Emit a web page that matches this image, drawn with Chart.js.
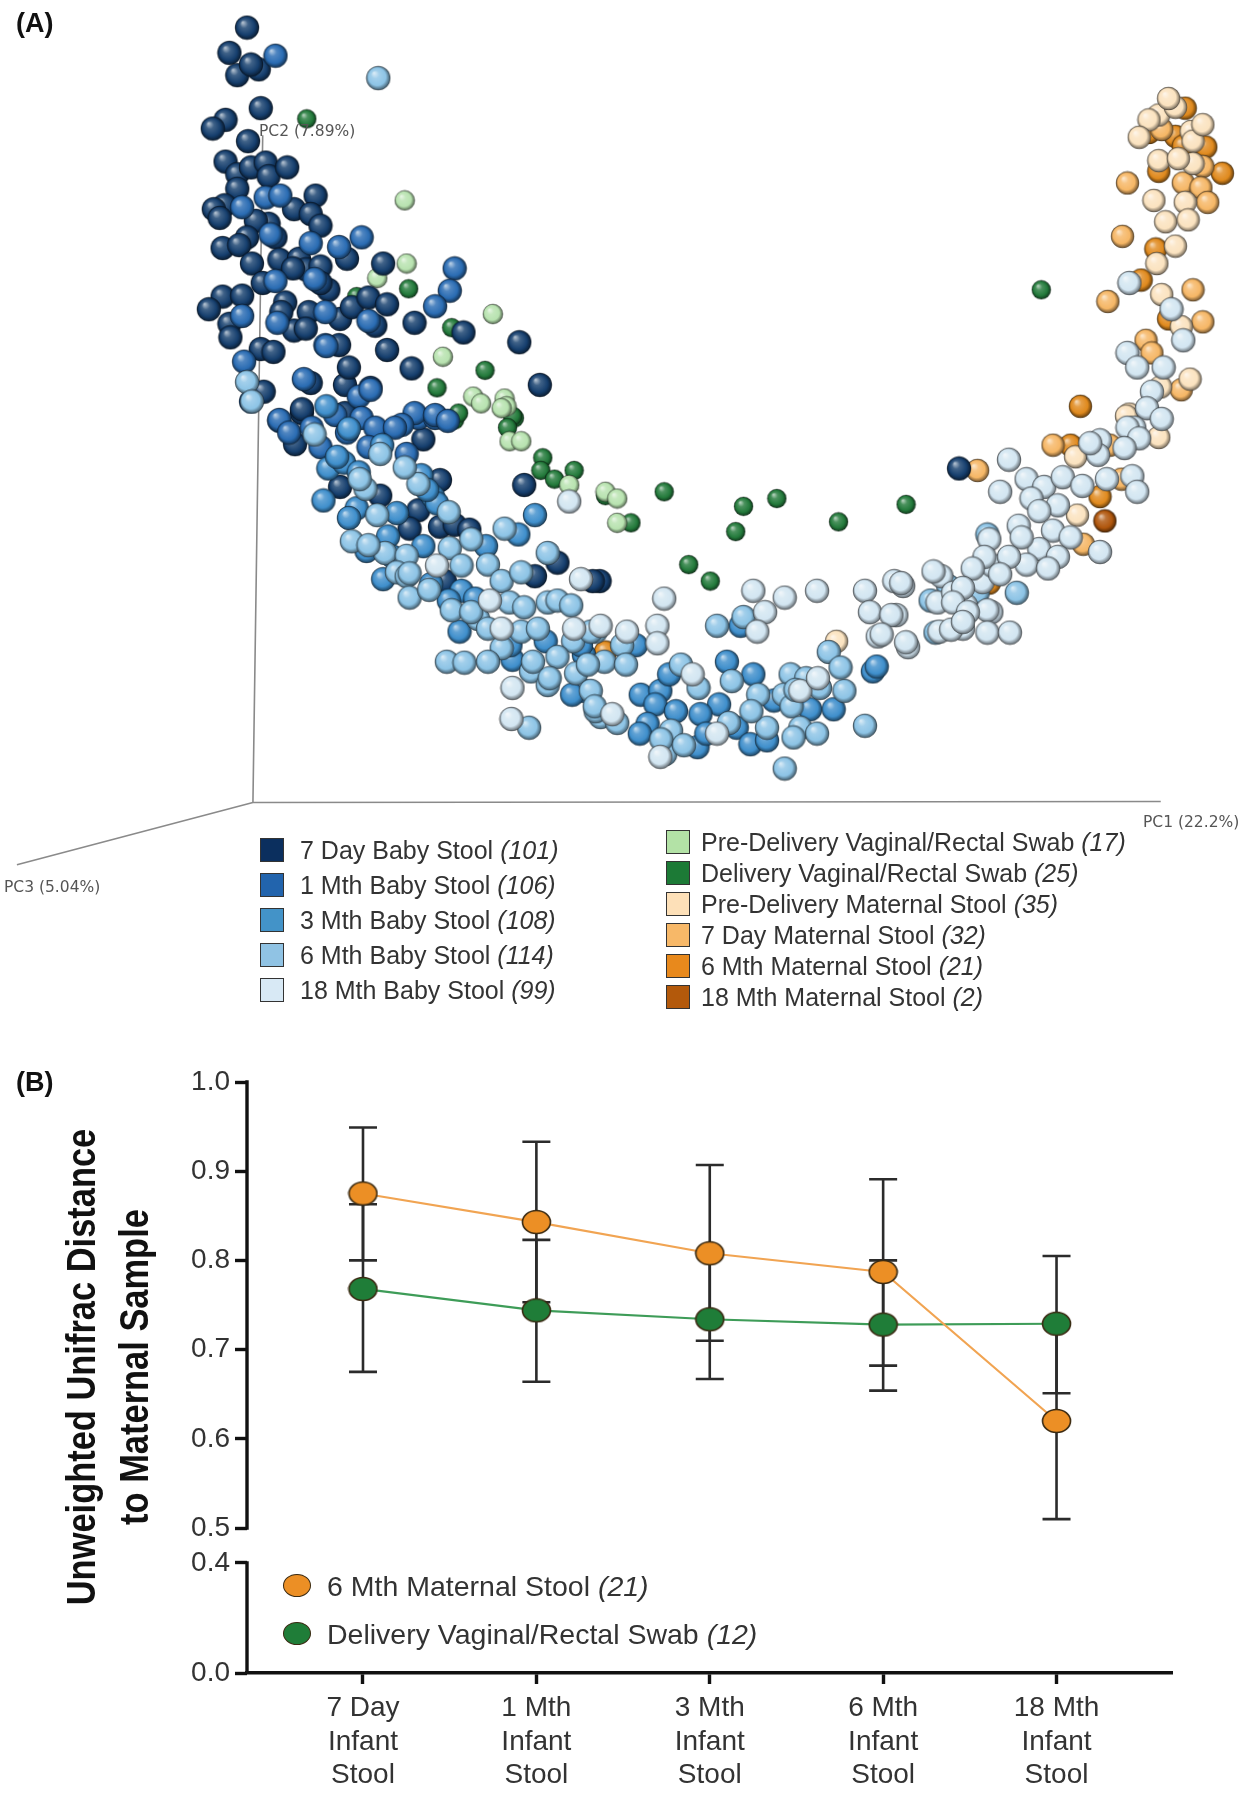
<!DOCTYPE html>
<html>
<head>
<meta charset="utf-8">
<script src="https://cdn.jsdelivr.net/npm/chart.js@4.4.1/dist/chart.umd.min.js"></script>
<style>
  html, body { margin:0; padding:0; background:#fff; }
  #page { position:relative; width:1256px; height:1800px; overflow:hidden; font-family:"Liberation Sans", Arial, sans-serif; }
  canvas { position:absolute; left:0; }
  .lbl { position:absolute; white-space:nowrap; }
  .panel { font-weight:bold; font-size:27px; color:#111; }
  .pc { font-family:"DejaVu Sans", Verdana, sans-serif; font-size:15.5px; color:#555; }
  .legA { position:absolute; font-size:25px; color:#333; white-space:nowrap; line-height:28px; }
  .sq { position:absolute; width:22px; height:22px; border:1.5px solid #333; }
  .legB { position:absolute; font-size:28.5px; color:#333; white-space:nowrap; line-height:32px; }
  .ell { position:absolute; width:26px; height:21px; border-radius:50%; border:1.6px solid #3a2a12; }
  i { font-style:italic; }
</style>
</head>
<body>
<div id="page">
  <canvas id="chartA" width="1256" height="900" style="top:0;width:1256px;height:900px;"></canvas>
  <canvas id="chartB" width="1256" height="760" style="top:1040px;width:1256px;height:760px;"></canvas>

  <div class="lbl panel" style="left:16px;top:8px;">(A)</div>
  <div class="lbl panel" style="left:16px;top:1067px;">(B)</div>

  <div class="lbl pc" style="left:259px;top:122px;">PC2 (7.89%)</div>
  <div class="lbl pc" style="left:1143px;top:813px;">PC1 (22.2%)</div>
  <div class="lbl pc" style="left:4px;top:878px;">PC3 (5.04%)</div>

  <div id="legendA"></div>
  <div id="legendB"></div>

  <div class="lbl" style="left:-192px;top:1314px;width:600px;height:106px;line-height:53px;text-align:center;font-weight:bold;font-size:41px;color:#111;transform:rotate(-90deg) scaleX(0.84);transform-origin:center;">Unweighted Unifrac Distance<br>to Maternal Sample</div>
</div>

<script>
// ================= DATA : panel A (projected PCoA positions) =================
const groupNames = [
  "7 Day Baby Stool", "1 Mth Baby Stool", "3 Mth Baby Stool", "6 Mth Baby Stool", "18 Mth Baby Stool",
  "Pre-Delivery Vaginal/Rectal Swab", "Delivery Vaginal/Rectal Swab", "Pre-Delivery Maternal Stool",
  "7 Day Maternal Stool", "6 Mth Maternal Stool", "18 Mth Maternal Stool"
];
const groupCounts = [101, 106, 108, 114, 99, 17, 25, 35, 32, 21, 2];
const groupColors = ["#163f6e","#2a6cb3","#3f8fcc","#8dc4e6","#d3e6f2","#b8e3b0","#237a3b","#fbe3c0","#f6b766","#e08a1e","#b0560c"];
const legendColors = ["#0b2f5e","#2264ad","#4393c8","#90c3e4","#d8e9f5","#b3e2a6","#1c7a36","#fde0b8","#f7b868","#e8891c","#b3590b"];

const day7Baby = [[239,15],[221,41],[251,58],[229,64],[243,53],[253,98],[217,110],[204,119],[240,132],
 [217,153],[229,166],[243,159],[258,154],[261,168],[280,159],[229,181],[216,198],[205,202],[287,202],[309,188],
 [304,207],[314,219],[261,217],[248,214],[239,231],[214,242],[231,239],[268,231],[341,253],[378,258],[244,258],
 [272,254],[292,253],[299,264],[314,261],[255,278],[322,285],[314,278],[214,292],[200,305],[221,320],[222,334],
 [287,327],[302,308],[299,325],[334,315],[346,303],[363,293],[382,300],[370,322],[410,319],[460,329],[517,339],
 [253,346],[266,349],[333,342],[382,347],[407,366],[538,383],[256,390],[304,381],[339,383],[365,386],[295,412],
 [336,415],[278,298],[295,408],[339,412],[288,444],[419,439],[522,486],[334,488],[375,497],[436,481],[414,512],
 [436,529],[451,527],[466,532],[405,531],[556,566],[441,585],[533,580],[599,585],[966,469],[592,585],
 [211,211],[286,263],[234,291],[274,308],[343,365]];
const mth1Baby = [[268,44],[234,200],[258,190],[273,188],[304,237],[333,241],[356,231],[451,263],[446,286],[268,276],
 [234,312],[270,319],[319,308],[363,317],[431,302],[236,359],[319,342],[243,400],[353,395],[272,420],[414,417],
 [431,417],[272,419],[329,414],[356,417],[370,427],[410,412],[431,414],[444,420],[397,424],[282,432],[305,427],
 [314,447],[341,432],[363,447],[402,454],[390,427],[263,228],[308,274],[320,343],[365,388],[297,377]];
const mth3Baby = [[322,469],[338,463],[353,473],[317,502],[417,476],[429,498],[351,510],[392,515],[433,505],[383,539],
 [361,554],[419,549],[483,549],[516,537],[378,583],[427,588],[458,595],[472,603],[456,637],[544,647],[510,666],
 [583,661],[533,517],[743,631],[580,651],[636,651],[583,698],[641,702],[661,698],[670,681],[656,712],[677,719],
 [648,732],[729,668],[756,681],[721,712],[702,722],[739,736],[753,753],[770,749],[814,717],[838,717],[878,678],
 [699,756],[882,673],[343,520],[388,560],[445,605],[508,651],[571,702],[640,742],[708,742],[777,708],
 [320,405],[343,428],[377,445],[423,491],[331,457]];
const mth6Baby = [[373,67],[239,380],[244,400],[375,454],[360,490],[414,485],[372,517],[346,544],[380,556],[446,551],
 [468,542],[402,559],[502,531],[546,556],[458,569],[392,576],[402,580],[485,568],[499,585],[519,576],[405,602],
 [507,607],[546,607],[556,605],[570,610],[448,615],[522,612],[519,637],[572,647],[595,637],[475,624],[499,654],
 [536,634],[443,668],[461,669],[485,668],[529,678],[556,663],[575,680],[590,698],[546,692],[604,668],[600,725],
 [527,736],[746,622],[719,631],[590,637],[622,651],[626,671],[587,671],[595,719],[682,671],[700,695],[672,739],
 [734,688],[761,702],[770,736],[794,681],[810,685],[787,702],[795,714],[824,695],[849,698],[833,658],[804,736],
 [821,742],[870,734],[797,746],[666,763],[788,778],[995,537],[1025,597],[955,590],[937,605],[985,597],[942,638],
 [363,548],[405,577],[425,594],[468,617],[485,634],[531,668],[548,685],[594,714],[617,731],[662,748],[685,754],
 [731,731],[754,719],[799,697],[845,674],[400,468],[445,514],[308,434],[354,480]];
const mth18Baby = [[568,503],[433,569],[580,583],[487,605],[499,634],[573,634],[510,695],[509,727],[665,603],[756,595],
 [788,602],[821,595],[870,595],[909,590],[948,580],[768,617],[760,637],[658,631],[600,631],[627,637],[875,617],
 [902,620],[883,642],[914,653],[944,607],[960,597],[973,610],[946,637],[970,634],[990,586],[999,617],[997,542],
 [1000,569],[658,649],[612,722],[694,681],[719,742],[804,698],[661,766],[1140,278],[1183,305],[1195,337],[1138,350],
 [1148,365],[1175,365],[1163,390],[1158,407],[1173,418],[1145,427],[1138,427],[1150,438],[1135,448],[1110,440],
 [1108,455],[1100,443],[1017,460],[1008,493],[1035,480],[1053,488],[1072,478],[1092,487],[1117,480],[1143,477],
 [1148,493],[1110,555],[1040,500],[1067,507],[1048,513],[1027,528],[1062,533],[1080,540],[1048,552],[1030,540],
 [1067,560],[1035,568],[1017,560],[1057,572],[992,560],[980,572],[1008,578],[940,575],[970,592],[960,607],[995,615],
 [975,617],[900,585],[907,587],[897,620],[912,648],[887,640],[958,635],[970,627],[995,638],[1018,638],[822,685]];
const preDelSwab = [[400,193],[402,258],[372,273],[490,310],[439,354],[470,395],[478,402],[502,397],[504,405],[499,407],
 [507,441],[519,441],[568,486],[605,493],[617,500],[617,525]];
const delSwab = [[300,109],[404,284],[351,292],[448,324],[482,368],[433,386],[451,419],[512,417],[455,412],[510,415],
 [505,427],[541,458],[539,471],[553,480],[573,471],[605,497],[631,525],[665,493],[746,508],[780,500],[738,534],
 [843,524],[912,506],[690,568],[712,585],[1050,285]];
const preDelMat = [[1170,105],[1187,97],[1203,122],[1205,132],[1170,152],[1205,155],[1165,193],[1197,195],[1177,215],
 [1200,213],[1187,240],[1168,258],[1173,290],[1193,323],[1202,377],[1172,385],[1140,413],[1137,415],[1170,437],
 [1085,457],[1087,517],[841,647],[1180,88],[1160,110],[1215,115],[1150,128],[1190,150]];
const day7Mat = [[1173,120],[1215,158],[1138,175],[1195,175],[1213,180],[1220,195],[1133,230],[1205,285],[1118,297],
 [1215,318],[1157,337],[1163,350],[1193,388],[1120,445],[1062,445],[985,471],[1132,480],[1093,547]];
const mth6Mat = [[1197,98],[1160,123],[1187,127],[1218,138],[1195,137],[1170,163],[1235,165],[1167,243],[1152,275],
 [1180,315],[1090,405],[1080,445],[1110,498],[997,587],[605,658]];
const mth18Mat = [[1098,447],[1115,523]];

const groupPoints = [day7Baby, mth1Baby, mth3Baby, mth6Baby, mth18Baby, preDelSwab, delSwab, preDelMat, day7Mat, mth6Mat, mth18Mat];
const groupSizes  = [24, 24, 24, 24, 24, 20, 19, 23, 23, 23, 23];
const drawOrder   = [4, 3, 2, 1, 0, 5, 6, 7, 8, 9, 10];

// ================= DATA : panel B =================
const categories = ["7 Day\nInfant\nStool", "1 Mth\nInfant\nStool", "3 Mth\nInfant\nStool", "6 Mth\nInfant\nStool", "18 Mth\nInfant\nStool"];
const maternalMean  = [0.875, 0.843, 0.808, 0.787, 0.620];
const maternalUpper = [0.949, 0.933, 0.907, 0.891, 0.728];
const maternalLower = [0.800, 0.753, 0.710, 0.682, 0.510];
const swabMean  = [0.768, 0.744, 0.734, 0.728, 0.729];
const swabUpper = [0.863, 0.823, 0.809, 0.800, 0.805];
const swabLower = [0.675, 0.664, 0.667, 0.654, 0.651];
const upperTicks = [0.5, 0.6, 0.7, 0.8, 0.9, 1.0];
const lowerTicks = [0.0, 0.4];
const seriesB = [
  {name:"6 Mth Maternal Stool", n:21, mean:maternalMean, lo:maternalLower, hi:maternalUpper, fill:"#ec8f25", line:"#f1a452"},
  {name:"Delivery Vaginal/Rectal Swab", n:12, mean:swabMean, lo:swabLower, hi:swabUpper, fill:"#1f7d38", line:"#3e9c58"}
];

// ================= helpers =================
function hexToRgb(h){ h=h.replace('#',''); return [parseInt(h.substr(0,2),16),parseInt(h.substr(2,2),16),parseInt(h.substr(4,2),16)]; }
function shade(h, amt){
  const c = hexToRgb(h).map(v => amt>=0 ? Math.round(v + (255-v)*amt) : Math.round(v*(1+amt)));
  return `rgb(${c[0]},${c[1]},${c[2]})`;
}
function sphere(hex, d){
  const s = d+2, c = document.createElement('canvas'); c.width=s; c.height=s;
  const x = c.getContext('2d'), r=d/2, cx=s/2, cy=s/2;
  const g = x.createRadialGradient(cx-r*0.35, cy-r*0.42, r*0.05, cx, cy, r);
  g.addColorStop(0, shade(hex,0.65)); g.addColorStop(0.3, shade(hex,0.18));
  g.addColorStop(0.72, hex); g.addColorStop(1, shade(hex,-0.55));
  x.fillStyle=g; x.beginPath(); x.arc(cx,cy,r,0,Math.PI*2); x.fill();
  x.lineWidth=0.8; x.strokeStyle='rgba(0,0,0,0.35)'; x.stroke();
  return c;
}
function ellipse(fill){
  const w=31, h=26, c=document.createElement('canvas'); c.width=w; c.height=h;
  const x=c.getContext('2d');
  x.beginPath(); x.ellipse(w/2,h/2,w/2-1.5,h/2-1.5,0,0,Math.PI*2);
  x.fillStyle=fill; x.fill(); x.lineWidth=1.6; x.strokeStyle='#3a2a12'; x.stroke();
  return c;
}

// ================= Panel A chart =================
const pcAxes = {
  id:'pcAxes',
  beforeDatasetsDraw(chart){
    const {ctx, scales:{x, y}} = chart;
    const ox=x.getPixelForValue(245), oy=y.getPixelForValue(813);
    ctx.save(); ctx.strokeStyle='#8a8a8a'; ctx.lineWidth=1.6;
    ctx.beginPath();
    ctx.moveTo(x.getPixelForValue(255), y.getPixelForValue(126)); ctx.lineTo(ox, oy);
    ctx.lineTo(x.getPixelForValue(1172), y.getPixelForValue(812));
    ctx.moveTo(ox, oy); ctx.lineTo(x.getPixelForValue(4), y.getPixelForValue(877));
    ctx.stroke(); ctx.restore();
  }
};
new Chart(document.getElementById('chartA'), {
  type:'scatter',
  data:{ datasets: drawOrder.map(i => ({
    label: groupNames[i],
    data: groupPoints[i].map(p => ({x:p[0], y:p[1]})),
    pointStyle: sphere(groupColors[i], groupSizes[i]),
    pointRadius: groupSizes[i]/2,
    clip: false
  }))},
  options:{
    responsive:false, animation:false, events:[],
    layout:{padding:0},
    scales:{
      x:{type:'linear', display:false, min:0, max:1256},
      y:{type:'linear', display:false, min:0, max:900, reverse:true}
    },
    plugins:{legend:{display:false}, tooltip:{enabled:false}}
  },
  plugins:[pcAxes]
});

// Legend A (HTML)
(function(){
  const L = document.getElementById('legendA');
  const leftRows = [850, 885, 920, 955, 990];
  const rightRows = [842, 873, 904, 935, 966, 997];
  groupNames.forEach((nm, i) => {
    const left = i < 5;
    const cy = left ? leftRows[i] : rightRows[i-5];
    const sx = left ? 260 : 666, tx = left ? 300 : 701;
    const sq = document.createElement('div'); sq.className='sq';
    sq.style.left = sx+'px'; sq.style.top=(cy-12)+'px'; sq.style.background = legendColors[i];
    L.appendChild(sq);
    const t = document.createElement('div'); t.className='legA';
    t.style.left = tx+'px'; t.style.top=(cy-14)+'px';
    t.innerHTML = nm + ' <i>(' + groupCounts[i] + ')</i>';
    L.appendChild(t);
  });
})();

// ================= Panel B chart =================
const errorBars = {
  id:'errorBars',
  beforeDatasetsDraw(chart){
    const {ctx, scales:{x, y}} = chart;
    ctx.save(); ctx.strokeStyle='#2b2b2b'; ctx.lineWidth=2.6;
    seriesB.forEach(s => {
      s.mean.forEach((m, i) => {
        const px = x.getPixelForValue(i), top=y.getPixelForValue(s.hi[i]), bot=y.getPixelForValue(s.lo[i]);
        ctx.beginPath();
        ctx.moveTo(px, top); ctx.lineTo(px, bot);
        ctx.moveTo(px-14, top); ctx.lineTo(px+14, top);
        ctx.moveTo(px-14, bot); ctx.lineTo(px+14, bot);
        ctx.stroke();
      });
    });
    ctx.restore();
  }
};
const brokenAxis = {
  id:'brokenAxis',
  afterDraw(chart){
    const {ctx, scales:{y, y2}, chartArea} = chart;
    ctx.save(); ctx.strokeStyle='#111'; ctx.lineWidth=3.4; ctx.lineCap='butt';
    const xl = chartArea.left;
    ctx.beginPath();
    ctx.moveTo(xl, y.getPixelForValue(upperTicks[upperTicks.length-1])-1.7);
    ctx.lineTo(xl, y.getPixelForValue(upperTicks[0])+1.7);
    ctx.moveTo(xl, y2.getPixelForValue(lowerTicks[1])-1.7);
    ctx.lineTo(xl, y2.getPixelForValue(lowerTicks[0]));
    ctx.stroke(); ctx.restore();
  }
};
const tickFont = {family:'"Liberation Sans", Arial, sans-serif', size:28};
const yGrid = {drawOnChartArea:false, drawTicks:true, tickLength:12, tickWidth:3.4, tickColor:'#111', color:'#111'};
new Chart(document.getElementById('chartB'), {
  type:'line',
  data:{ datasets: seriesB.map(s => ({
    label: s.name,
    data: s.mean.map((v,i) => ({x:i, y:v})),
    borderColor: s.line, borderWidth: 2.2,
    pointStyle: ellipse(s.fill), pointRadius: 14,
    yAxisID:'y', clip:false, tension:0
  }))},
  options:{
    responsive:false, animation:false, events:[],
    layout:{padding:{top:42, right:84, left:0, bottom:0}},
    scales:{
      x:{
        type:'linear', position:'bottom', min:-0.669, max:4.666,
        afterFit(s){ s.height = 127; },
        afterBuildTicks(s){ s.ticks = categories.map((c,i)=>({value:i})); },
        ticks:{ autoSkip:false, maxRotation:0, color:'#333', padding:7,
          font:{family:'"Liberation Sans", Arial, sans-serif', size:28, lineHeight:1.21},
          callback:(v)=> categories[v] ? categories[v].split('\n') : '' },
        grid:{drawOnChartArea:false, drawTicks:true, tickLength:11, tickWidth:3.4, tickColor:'#111', color:'#111'},
        border:{display:true, color:'#111', width:3.4}
      },
      y2:{
        type:'linear', position:'left', stack:'left', stackWeight:145, min:0, max:0.527,
        afterFit(s){ s.width = 247; },
        afterBuildTicks(s){ s.ticks = lowerTicks.map(v=>({value:v})); },
        ticks:{ color:'#333', padding:5, font:tickFont, callback:(v)=>Number(v).toFixed(1) },
        grid:yGrid, border:{display:false}
      },
      y:{
        type:'linear', position:'left', stack:'left', stackWeight:446, min:0.5, max:1.0,
        afterFit(s){ s.width = 247; },
        afterBuildTicks(s){ s.ticks = upperTicks.map(v=>({value:v})); },
        ticks:{ color:'#333', padding:5, font:tickFont, callback:(v)=>Number(v).toFixed(1) },
        grid:yGrid, border:{display:false}
      }
    },
    plugins:{legend:{display:false}, tooltip:{enabled:false}}
  },
  plugins:[errorBars, brokenAxis]
});

// Legend B (HTML)
(function(){
  const L = document.getElementById('legendB');
  const rows = [1586, 1634];
  seriesB.forEach((s, i) => {
    const e = document.createElement('div'); e.className='ell';
    e.style.left = (297-14)+'px'; e.style.top = (rows[i]-12)+'px'; e.style.background = s.fill;
    L.appendChild(e);
    const t = document.createElement('div'); t.className='legB';
    t.style.left='327px'; t.style.top=(rows[i]-16)+'px';
    t.innerHTML = s.name + ' <i>(' + s.n + ')</i>';
    L.appendChild(t);
  });
})();
</script>
</body>
</html>
